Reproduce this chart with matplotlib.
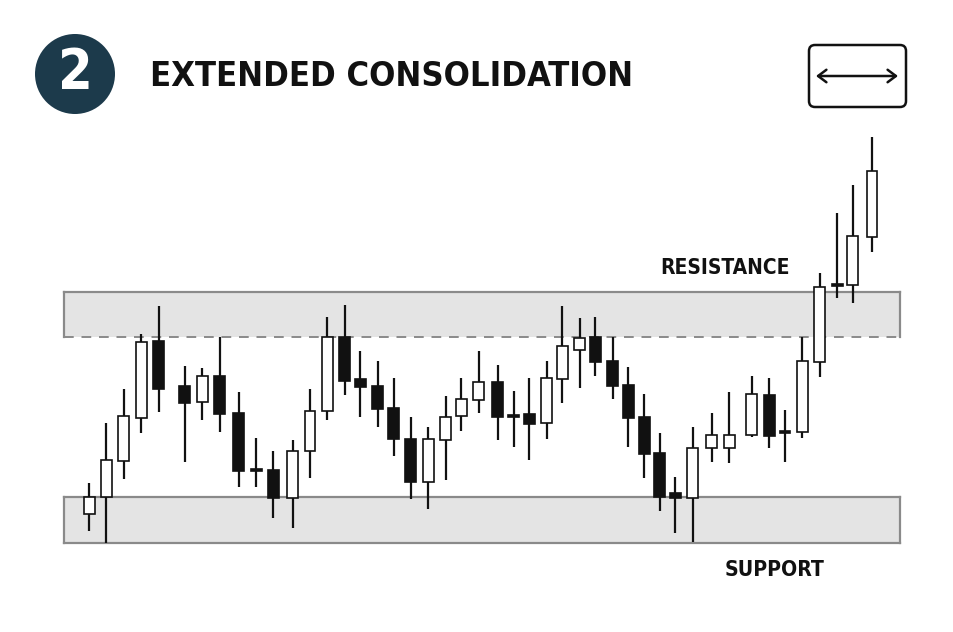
import matplotlib
matplotlib.use("Agg")
import matplotlib.pyplot as plt
from matplotlib.patches import Circle, FancyBboxPatch, Rectangle
from matplotlib import font_manager

# ---------------- data ----------------
# time position of each candle (slot units)
t = [1.0, 2.0, 3.0, 4.0, 5.0, 6.5, 7.5, 8.5, 9.6, 10.6, 11.6, 12.7, 13.7, 14.7,
     15.7, 16.6, 17.6, 18.5, 19.5, 20.5, 21.5, 22.4, 23.4, 24.5, 25.4, 26.3,
     27.3, 28.2, 29.2, 30.1, 31.1, 32.0, 32.9, 33.8, 34.7, 35.7, 36.8, 37.8,
     39.1, 40.1, 41.0, 42.0, 43.0, 44.0, 44.9, 46.0]
opens = [53.1, 54.8, 58.4, 62.7, 70.4, 65.9, 64.3, 66.9, 63.2, 57.6, 57.5, 54.7,
         59.4, 63.4, 70.8, 66.6, 65.9, 63.7, 60.6, 56.3, 60.5, 62.9, 64.5, 66.3,
         63.0, 63.1, 62.2, 66.6, 69.5, 70.8, 68.4, 66.0, 62.8, 59.2, 55.2, 54.7,
         59.7, 59.7, 61.0, 65.0, 61.4, 61.3, 68.3, 76.1, 76.0, 80.8]
highs = [56.2, 62.2, 65.6, 71.1, 73.9, 67.9, 67.7, 70.8, 65.3, 60.7, 59.4, 60.5,
         65.6, 72.8, 74.0, 69.4, 68.4, 66.7, 62.8, 61.8, 64.9, 66.7, 69.4, 68.0,
         65.4, 66.7, 68.4, 73.9, 72.7, 72.8, 70.8, 67.8, 65.1, 61.2, 56.8, 61.8,
         63.2, 65.3, 66.9, 66.7, 63.5, 70.8, 77.2, 83.2, 86.0, 90.8]
lows = [51.4, 50.2, 56.6, 61.2, 63.3, 58.3, 62.5, 61.3, 55.8, 55.8, 52.7, 51.7,
        56.7, 62.5, 65.0, 62.8, 61.8, 58.9, 54.6, 53.6, 56.5, 61.4, 63.2, 60.5,
        59.8, 58.5, 60.6, 64.2, 65.7, 66.9, 64.6, 59.8, 56.7, 53.4, 51.2, 50.3,
        58.3, 58.2, 60.8, 59.7, 58.3, 60.7, 66.8, 74.7, 74.2, 79.3]
closes = [54.8, 58.5, 62.9, 70.3, 65.6, 64.2, 66.9, 63.1, 57.4, 57.4, 54.7, 59.4,
          63.4, 70.8, 66.4, 65.8, 63.6, 60.6, 56.3, 60.6, 62.8, 64.6, 66.3, 62.8,
          62.8, 62.1, 66.7, 69.9, 70.7, 68.3, 65.9, 62.7, 59.1, 54.8, 54.7, 59.7,
          61.0, 61.0, 65.1, 60.9, 61.2, 68.4, 75.8, 75.9, 80.9, 87.4]

support_zone = (50.2, 54.8)
resistance_zone = (70.8, 75.3)

title = "EXTENDED CONSOLIDATION"
badge = "2"
resistance_label = "RESISTANCE"
support_label = "SUPPORT"

# ---------------- fonts: look for a bold condensed face ----------------
def find_condensed():
    best, best_score = None, -1
    for f in font_manager.fontManager.ttflist:
        name = f.name.lower()
        fname = f.fname.lower()
        narrow = ("condensed" in name or "narrow" in name or "condensed" in fname
                  or "narrow" in fname or str(f.stretch) in
                  ("condensed", "semi-condensed", "extra-condensed", "ultra-condensed"))
        if not narrow:
            continue
        w = f.weight if isinstance(f.weight, int) else 400
        if isinstance(f.weight, str):
            w = 700 if "bold" in f.weight else 400
        score = 10 + (5 if w >= 600 else 0) + (2 if "italic" not in f.style and "oblique" not in f.style else -10)
        if score > best_score:
            best, best_score = f.fname, score
    return best

cpath = find_condensed()
if cpath:
    FP = font_manager.FontProperties(fname=cpath)
else:
    FP = font_manager.FontProperties(family="DejaVu Sans", weight="bold")

W, H = 954, 632
fig = plt.figure(figsize=(W / 100, H / 100), dpi=100)
fig.patch.set_facecolor("white")

ov = fig.add_axes([0, 0, 1, 1])
ov.set_xlim(0, W)
ov.set_ylim(H, 0)
ov.axis("off")

x0px, x1px, y0px, y1px = 64, 900, 130, 560
ax = fig.add_axes([x0px / W, 1 - y1px / H, (x1px - x0px) / W, (y1px - y0px) / H])
ax.set_xlim(-0.44, 47.61)
ax.set_ylim(48.5, 91.5)
ax.axis("off")

xl = ax.get_xlim()
band_face = "#e4e4e4"
band_edge = "#8a8a8a"
for (lo, hi), dashed_bottom in ((resistance_zone, True), (support_zone, False)):
    ax.add_patch(Rectangle((xl[0], lo), xl[1] - xl[0], hi - lo, facecolor=band_face,
                           edgecolor="none", zorder=1, clip_on=False))
    ax.plot([xl[0], xl[1]], [hi, hi], color=band_edge, lw=1.6, zorder=1.5, clip_on=False)
    ax.plot([xl[0], xl[0]], [lo, hi], color=band_edge, lw=1.6, zorder=1.5, clip_on=False)
    ax.plot([xl[1], xl[1]], [lo, hi], color=band_edge, lw=1.6, zorder=1.5, clip_on=False)
    if dashed_bottom:
        ax.plot([xl[0], xl[1]], [lo, lo], color=band_edge, lw=1.4, zorder=1.5,
                dashes=(5, 4), clip_on=False)
    else:
        ax.plot([xl[0], xl[1]], [lo, lo], color=band_edge, lw=1.6, zorder=1.5, clip_on=False)

bw = 0.63
ax.vlines(t, lows, highs, color="#111111", lw=1.6, zorder=2)
for ti, o, c in zip(t, opens, closes):
    bottom = min(o, c)
    h = max(abs(c - o), 0.25)
    up = c > o
    ax.add_patch(Rectangle((ti - bw / 2, bottom), bw, h,
                           facecolor="white" if up else "#111111",
                           edgecolor="#111111", lw=1.2, zorder=3))

renderer = fig.canvas.get_renderer()


def fit(txt, target_w):
    bb = txt.get_window_extent(renderer=renderer)
    txt.set_fontsize(txt.get_fontsize() * target_w / bb.width)


def mk(axis, x, y, s, size, **kw):
    fp = FP.copy()
    fp.set_size(size)
    return axis.text(x, y, s, fontproperties=fp, **kw)


tr = mk(ax, 37.55, 77.7, resistance_label, 14, ha="center", va="center", color="#111111")
fit(tr, 130)
ts = mk(ax, 40.4, 47.5, support_label, 14, ha="center", va="center", color="#111111")
fit(ts, 100)

ov.add_patch(Circle((75, 74), 40, facecolor="#1c3a4b", edgecolor="none"))
tb = mk(ov, 75, 73, badge, 40, ha="center", va="center", color="white")
tt = mk(ov, 150, 76, title, 40, ha="left", va="center", color="#111111")
fit(tt, 482)

ov.add_patch(FancyBboxPatch((809, 45), 97, 62, boxstyle="round,pad=0,rounding_size=6",
                            facecolor="white", edgecolor="#111111", lw=1.8))
ov.annotate("", xy=(898, 76), xytext=(816, 76),
            arrowprops=dict(arrowstyle="<->,head_length=0.6,head_width=0.45",
                            lw=1.8, color="#111111", shrinkA=0, shrinkB=0))

fig.savefig("out.png", dpi=100, facecolor="white")
